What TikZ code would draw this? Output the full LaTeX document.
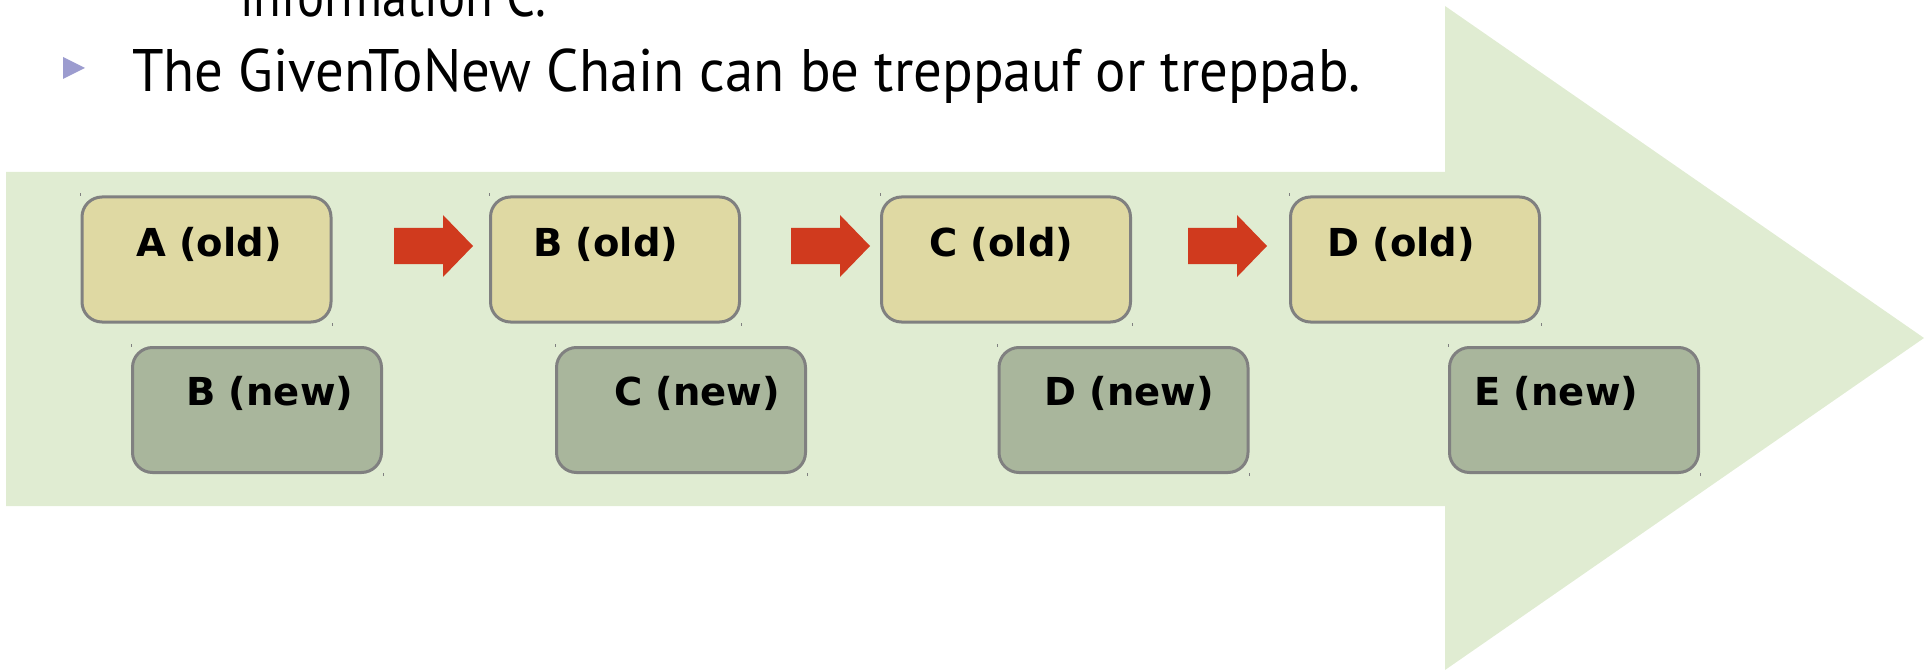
\documentclass[tikz,border=0pt]{standalone}
\usepackage{fontspec}
\usepackage{graphicx}
\newfontfamily\boxfont{DejaVu Sans}
\newfontfamily\headfont{PT Sans}
\definecolor{bgarrow}{RGB}{224,236,210}
\definecolor{oldfill}{RGB}{223,217,163}
\definecolor{newfill}{RGB}{169,182,156}
\definecolor{boxline}{RGB}{128,128,128}
\definecolor{redarr}{RGB}{208,58,30}
\definecolor{bulletc}{RGB}{156,156,207}
\tikzset{
  box/.style={draw=boxline, line width=3pt, rounded corners=20pt, minimum width=249pt, minimum height=125pt, inner sep=0pt},
  oldbox/.style={box, fill=oldfill},
  newbox/.style={box, fill=newfill},
  lbl/.style={anchor=base west, inner sep=0pt, font=\boxfont\bfseries\fontsize{38.5}{46}\selectfont},
  redarrow/.style={fill=redarr},
  tick/.style={draw=boxline, line width=0.8pt},
  headtxt/.style={anchor=base west, inner sep=0pt}
}
\begin{document}
\begin{tikzpicture}[x=1pt,y=-1pt]
\useasboundingbox (0,0) rectangle (1930,671);
\clip (0,0) rectangle (1930,671);
% big background arrow
\fill[bgarrow] (6,172) -- (1445,172) -- (1445,6) -- (1924,338) -- (1445,670) -- (1445,506) -- (6,506) -- cycle;
% heading text
\node[headtxt] (info) at (240,17) {\resizebox{306pt}{\height}{\headfont\fontsize{60}{72}\selectfont information C.}};
\fill[bulletc] (63,57) -- (85,68) -- (63,79) -- cycle;
\node[headtxt] (head) at (132,92) {\resizebox{1228pt}{\height}{\headfont\fontsize{60}{72}\selectfont The GivenToNew Chain can be treppauf or treppab.}};
% old boxes
\node[oldbox] (Aold) at (206.5,259.5) {};
\node[oldbox] (Bold) at (615,259.5) {};
\node[oldbox] (Cold) at (1006,259.5) {};
\node[oldbox] (Dold) at (1415,259.5) {};
% new boxes
\node[newbox] (Bnew) at (257,410) {};
\node[newbox] (Cnew) at (681,410) {};
\node[newbox] (Dnew) at (1123.5,410) {};
\node[newbox] (Enew) at (1574,410) {};
% labels
\node[lbl] (tAold) at (136,256) {A (old)};
\node[lbl] (tBold) at (533,256) {B (old)};
\node[lbl] (tCold) at (929,256) {C (old)};
\node[lbl] (tDold) at (1327,256) {D (old)};
\node[lbl] (tBnew) at (186,405) {B (new)};
\node[lbl] (tCnew) at (614,405) {C (new)};
\node[lbl] (tDnew) at (1044,405) {D (new)};
\node[lbl] (tEnew) at (1474,405) {E (new)};
% red block arrows
\foreach \x/\n in {394/arr1,791/arr2,1188/arr3}{
  \coordinate (\n) at (\x,246);
  \fill[redarrow] (\n) ++(0,-18) -- ++(49,0) -- ++(0,-13) -- ++(30,31) -- ++(-30,31) -- ++(0,-13) -- ++(-49,0) -- cycle;
}
% corner ticks
\foreach \n in {Aold,Bold,Cold,Dold,Bnew,Cnew,Dnew,Enew}{
  \draw[tick] ([yshift=2pt]\n.north west) -- ++(0,3);
  \draw[tick] ([yshift=-2pt]\n.south east) -- ++(0,-3);
}
\end{tikzpicture}
\end{document}
